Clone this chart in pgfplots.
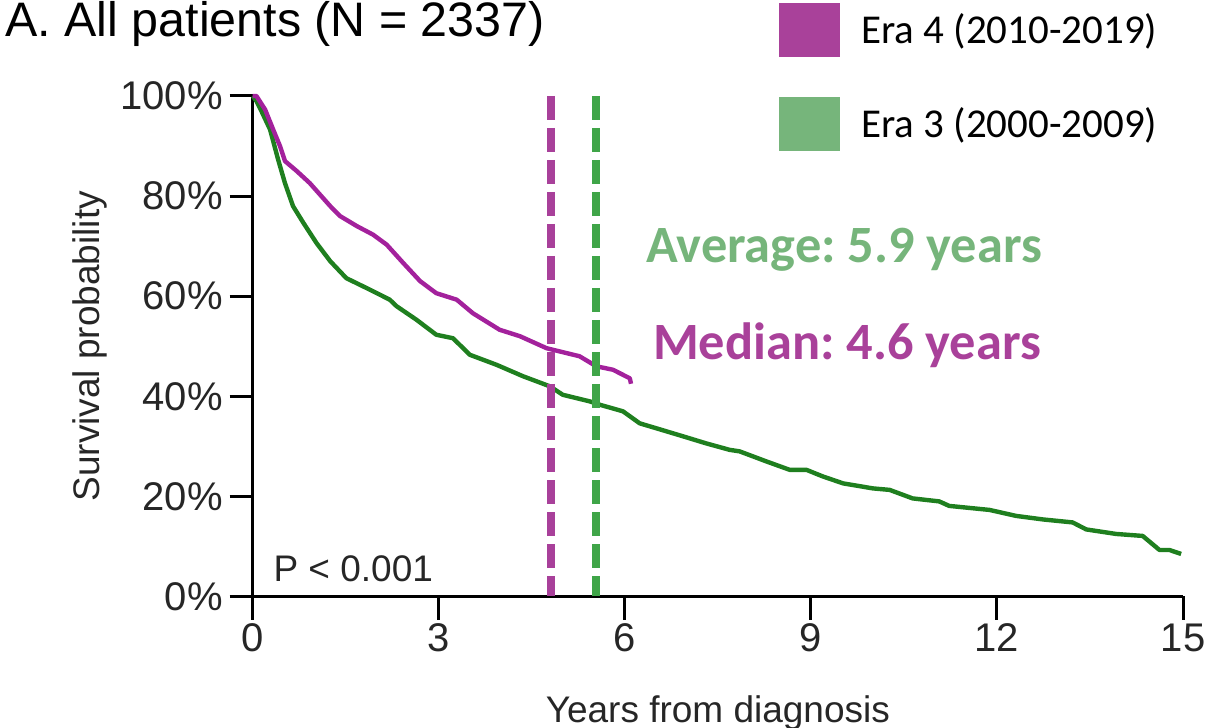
\documentclass[border=0pt]{standalone}
\usepackage{pgfplots}
\pgfplotsset{compat=1.18}
\usepackage{fontspec}
\setmainfont{Liberation Sans}
\newfontfamily\calibri{Carlito}
\definecolor{curvemag}{HTML}{A3219C}
\definecolor{curvegrn}{HTML}{1F7F1F}
\definecolor{dashmag}{HTML}{A8409A}
\definecolor{dashgrn}{HTML}{3FA548}
\definecolor{legmag}{HTML}{A9419A}
\definecolor{leggrn}{HTML}{76B57B}
\frenchspacing
\begin{document}
\begin{tikzpicture}
\begin{axis}[
  at={(126.35pt,65.75pt)}, anchor=south west,
  scale only axis, width=465.15pt, height=250.25pt,
  xmin=0, xmax=15, ymin=0, ymax=100,
  axis x line=bottom, axis y line=left,
  axis line style={-, line width=1.5pt, black},
  xtick={0,3,6,9,12,15}, ytick={0,20,40,60,80,100},
  yticklabels={0\%,20\%,40\%,60\%,80\%,100\%},
  tick align=outside, major tick length=11.5pt,
  every tick/.style={black, line width=1.5pt},
  /pgf/number format/assume math mode=true,
  tick label style={font=\fontsize{20}{22}\selectfont, text=black!85},
  xticklabel style={yshift=1.5pt},
  clip=false,
  title={A. All patients (N = 2337)},
  title style={at={(axis description cs:-0.2663,1.0939)}, anchor=base west, inner sep=0pt, font=\fontsize{24.2}{28}\selectfont},
  xlabel={Years from diagnosis},
  xlabel style={at={(axis description cs:0.5,-0.2527)}, anchor=base, inner sep=0pt, font=\fontsize{18.5}{22}\selectfont, text=black!85},
  ylabel={Survival probability},
  ylabel style={at={(axis description cs:-0.175,0.5)}, anchor=center, inner sep=0pt, font=\fontsize{18.5}{22}\selectfont, text=black!85},
  legend style={at={(axis description cs:0.5657,1.186)}, anchor=north west, draw=none, fill=none, inner sep=0pt,
    nodes={inner sep=0pt}, column sep=10.5pt, row sep=20pt, font=\calibri\fontsize{20.5}{24}\selectfont},
  legend cell align=left,
]
\addlegendimage{legend image code/.code={\fill[legmag] (0pt,-13.25pt) rectangle (30pt,13.25pt);}}
\addlegendentry{Era 4 (2010-2019)}
\addlegendimage{legend image code/.code={\fill[leggrn] (0pt,-13.25pt) rectangle (30pt,13.25pt);}}
\addlegendentry{Era 3 (2000-2009)}

% Era 3 (2000-2009)
\addplot[curvegrn, line width=2.2pt, line join=round] coordinates {
(0,100) (0.06,99) (0.14,97) (0.28,93.3) (0.41,87.3) (0.52,82.6) (0.65,78) (0.82,74.6)
(1.03,70.6) (1.25,67) (1.51,63.6) (1.89,61.3) (2.21,59.3) (2.32,58) (2.64,55.3)
(2.96,52.3) (3.23,51.6) (3.5,48.3) (3.93,46.3) (4.36,44) (4.79,42) (5.0,40.3)
(5.43,39) (5.6,38.3) (5.97,37) (6.24,34.6) (6.51,33.6) (6.94,32) (7.31,30.6)
(7.69,29.3) (7.85,29) (8.28,27) (8.66,25.3) (8.93,25.3) (9.19,24) (9.52,22.6)
(10,21.6) (10.27,21.3) (10.64,19.6) (11.07,19) (11.23,18.1) (11.88,17.3)
(12.31,16.1) (12.74,15.4) (13.22,14.8) (13.44,13.4) (13.92,12.5) (14.35,12.1)
(14.62,9.3) (14.78,9.3) (14.97,8.5)
};
% Era 4 (2010-2019)
\addplot[curvemag, line width=2.2pt, line join=round] coordinates {
(0,100) (0.06,100) (0.2,97.3) (0.33,93.3) (0.44,90) (0.52,87) (0.71,85) (0.92,82.6)
(1.25,78) (1.41,76) (1.68,74) (1.94,72.3) (2.16,70.3) (2.43,66.6) (2.7,63)
(2.96,60.6) (3.29,59.3) (3.55,56.6) (3.98,53.3) (4.31,52) (4.74,49.6) (5.27,48)
(5.54,46) (5.81,45.3) (6.08,43.6) (6.1,42.5)
};
% median / average markers
\addplot[dashmag, line width=4pt, dash pattern=on 12pt off 4pt] coordinates {(4.81,100) (4.81,0)};
\addplot[dashgrn, line width=4pt, dash pattern=on 12pt off 4pt] coordinates {(5.54,100) (5.54,0)};

\node[anchor=base west, inner sep=0pt, text=leggrn, font=\calibri\bfseries\fontsize{26.2}{30}\selectfont] at (axis cs:6.34,66.7) {Average: 5.9 years};
\node[anchor=base west, inner sep=0pt, text=legmag, font=\calibri\bfseries\fontsize{26.2}{30}\selectfont] at (axis cs:6.45,47.3) {Median: 4.6 years};
\node[anchor=base west, inner sep=0pt, text=black!85, font=\fontsize{18.5}{22}\selectfont] at (axis cs:0.33,2.9) {P < 0.001};
\end{axis}
\pgfresetboundingbox
\useasboundingbox (0,0) rectangle (602.5pt,364pt);
\end{tikzpicture}
\end{document}
